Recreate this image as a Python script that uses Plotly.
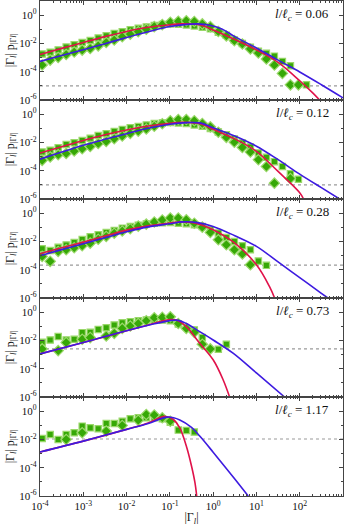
import plotly.graph_objects as go
from plotly.subplots import make_subplots

# panel labels l / l_c
ratios = ["0.06", "0.12", "0.28", "0.73", "1.17"]

# level of the grey dotted line in each panel (log10)
floor_log = [-5.0, -5.0, -3.67, -2.6, -1.97]

# log10 |Gamma_l| of the histogram bins (shared by all panels)
bins_log = [-3.95, -3.765, -3.58, -3.395, -3.21, -3.025, -2.84, -2.655, -2.47, -2.285,
            -2.1, -1.915, -1.73, -1.545, -1.36, -1.175, -0.99, -0.805, -0.62, -0.435,
            -0.25, -0.065, 0.12, 0.305, 0.49, 0.675, 0.86, 1.045, 1.23, 1.415,
            1.6, 1.785, 1.97, 2.155]

N = None
# squares (log10 of |Gamma| p) per panel
sq1 = [-2.75, -2.62, -2.46, -2.26, -2.09, -1.93, -1.79, -1.62, -1.46, -1.29,
       -1.17, -1.03, -0.93, -0.84, -0.74, -0.67, -0.62, -0.64, -0.69, -0.76,
       -0.85, -0.97, -1.21, -1.42, -1.75, -2.01, -2.27, -2.56, -2.7, -2.9,
       -3.27, -3.58, N, -4.93]
sq2 = [-2.68, -2.55, -2.38, -2.15, -2.03, -1.86, -1.70, -1.51, -1.39, -1.22,
       -1.08, -0.96, -0.87, -0.77, -0.67, -0.62, -0.59, -0.62, -0.66, -0.76,
       -0.85, -1.02, -1.26, -1.45, -1.75, -2.04, -2.32, -2.75, -3.05, -3.36,
       -3.7, -4.22, -4.6, N]
sq3 = [-2.52, -2.64, -2.42, -2.25, -2.08, -1.87, -1.67, -1.53, -1.37, -1.22,
       -1.06, -0.94, -0.85, -0.76, -0.72, -0.68, -0.66, -0.71, -0.75, -0.82,
       -0.94, -1.18, -1.41, -1.72, -2.0, -2.31, -2.59, -3.39, -3.69, N,
       N, N, N, N]
sq4 = [-2.13, -1.97, -1.73, -1.97, -1.92, -1.45, -1.43, -1.22, -1.1, -0.91,
       -0.75, -0.68, -0.61, -0.56, -0.56, -0.56, -0.61, -0.84, N, -1.26,
       -1.8, N, -2.62, -2.27, N, N, N, N, N, N,
       N, N, N, N]
sq5 = [-1.93, -1.65, -2.0, -1.65, -1.53, -1.06, -1.18, -1.25, -0.87, -0.87,
       -0.71, -0.54, -0.47, -0.47, -0.47, -0.54, -0.78, -1.34, -1.36, -1.48,
       N, N, N, N, N, N, N, N, N, N,
       N, N, N, N]

# diamonds per panel
di1 = [-3.53, -3.18, -2.99, -2.78, -2.61, -2.47, -2.36, -2.17, -1.93, -1.76,
       -1.53, -1.34, -1.17, -1.0, -0.81, -0.67, -0.5, -0.43, -0.4, -0.45,
       -0.62, -0.81, -1.16, -1.47, -1.8, -2.04, -2.39, -2.68, -3.1, -3.53,
       -4.12, -4.93, -4.93, N]
di2 = [-3.27, -3.03, -2.87, -2.78, -2.61, -2.45, -2.29, -2.08, -1.93, -1.74,
       -1.55, -1.36, -1.2, -1.05, -0.86, -0.68, -0.47, -0.38, -0.38, -0.47,
       -0.66, -0.9, -1.28, -1.64, -1.99, -2.35, -2.68, -3.22, -3.7, -4.88,
       N, -4.55, N, N]
di3 = [-3.06, -3.41, -2.71, -2.59, -2.45, -2.3, -2.12, -1.85, -1.65, -1.42,
       -1.26, -1.1, -0.92, -0.78, -0.63, -0.48, -0.35, -0.35, -0.47, -0.71,
       -0.99, -1.36, -1.88, -2.24, -2.59, -2.89, -3.65, N, N, N,
       N, N, N, N]
di4 = [-2.6, N, -2.72, -2.15, N, -1.92, -1.8, N, -1.69, -1.5,
       -1.15, -0.98, -0.8, -0.61, -0.4, -0.37, -0.33, -0.8, -1.15, -1.43,
       -2.27, -2.6, N, N, N, N, N, N, N, N,
       N, N, N, N]
di5 = [N, N, N, -2.0, N, -1.53, N, N, -1.41, N,
       -1.01, N, -0.64, -0.24, -0.28, -0.47, -0.71, N, N, N,
       N, N, N, N, N, N, N, N, N, N,
       N, N, N, N]

# red curves (log10 x, log10 y)
red1_x = [-4, -3.5, -3, -2.5, -2, -1.5, -1, -0.75, -0.45, -0.2, 0, 0.5, 1, 1.5, 2, 2.3, 2.46]
red1_y = [-2.78, -2.35, -1.93, -1.52, -1.15, -0.86, -0.68, -0.62, -0.63, -0.78, -1.05, -1.72, -2.46,
          -3.34, -4.64, -5.5, -6.0]
red2_x = [-4, -3.5, -3, -2.5, -2, -1.5, -1, -0.7, -0.4, -0.2, 0, 0.5, 1, 1.5, 2, 2.09]
red2_y = [-2.75, -2.3, -1.86, -1.46, -1.12, -0.84, -0.64, -0.58, -0.62, -0.78, -1.07, -1.75, -2.63,
          -4.05, -5.55, -6.0]
red3_x = [-4, -3.5, -3, -2.5, -2, -1.5, -1, -0.75, -0.5, -0.25, 0, 0.5, 1, 1.3, 1.42]
red3_y = [-2.87, -2.45, -2.05, -1.62, -1.2, -0.9, -0.7, -0.62, -0.65, -0.85, -1.18, -2.12, -3.65,
          -5.18, -6.0]
red4_x = [-4, -3, -2, -1.5, -1.2, -1.0, -0.85, -0.62, -0.31, 0, 0.23, 0.38]
red4_y = [-2.95, -2.15, -1.31, -0.91, -0.65, -0.52, -0.56, -1.03, -2.2, -3.37, -4.78, -6.0]
red5_x = [-4, -3, -2, -1.5, -1.3, -1.12, -0.92, -0.77, -0.62, -0.5, -0.42, -0.38]
red5_y = [-2.89, -2.12, -1.29, -0.84, -0.55, -0.36, -0.59, -1.18, -2.47, -3.88, -5.06, -6.0]

# blue curves (log10 x, log10 y)
blue1_x = [-4, -3.5, -3, -2.5, -2, -1.5, -1, -0.6, -0.35, -0.1, 0.2, 0.5, 1, 1.5, 2, 2.5, 3]
blue1_y = [-3.27, -2.86, -2.45, -2.02, -1.58, -1.17, -0.8, -0.65, -0.62, -0.7, -0.98, -1.52, -2.32,
           -3.18, -4.02, -4.92, -5.85]
blue2_x = [-4, -3.5, -3, -2.5, -2, -1.5, -1, -0.6, -0.3, 0, 0.5, 1, 1.5, 2, 2.5, 2.92]
blue2_y = [-3.18, -2.68, -2.2, -1.78, -1.38, -1.0, -0.72, -0.6, -0.62, -0.97, -1.55, -2.27, -3.22,
           -4.24, -5.2, -6.0]
blue3_x = [-4, -3.5, -3, -2.5, -2, -1.5, -1, -0.7, -0.4, 0, 0.5, 1, 1.5, 2, 2.5, 2.65]
blue3_y = [-3.01, -2.58, -2.16, -1.74, -1.32, -0.97, -0.75, -0.62, -0.65, -0.94, -1.6, -2.35, -3.45,
           -4.56, -5.67, -6.0]
blue4_x = [-4, -3, -2, -1.5, -1.0, -0.8, -0.62, -0.31, 0, 0.46, 1.0, 1.65]
blue4_y = [-2.95, -2.15, -1.31, -0.93, -0.6, -0.58, -0.8, -1.38, -1.97, -2.9, -4.3, -6.0]
blue5_x = [-4, -3, -2, -1.5, -1.05, -0.77, -0.5, -0.31, 0, 0.5, 0.81]
blue5_y = [-2.89, -2.12, -1.29, -0.87, -0.42, -0.62, -1.15, -1.76, -2.9, -4.8, -6.0]

x_ticks_log = [-4, -3, -2, -1, 0, 1, 2, 3]
y_ticks_log = [-6, -4, -2, 0]

squares = [sq1, sq2, sq3, sq4, sq5]
diamonds = [di1, di2, di3, di4, di5]
reds = [(red1_x, red1_y), (red2_x, red2_y), (red3_x, red3_y), (red4_x, red4_y), (red5_x, red5_y)]
blues = [(blue1_x, blue1_y), (blue2_x, blue2_y), (blue3_x, blue3_y), (blue4_x, blue4_y), (blue5_x, blue5_y)]

RED = "#e0124a"
BLUE = "#3d1be0"
FILL = "#36a806"
EDGE = "#9ad86a"
AXIS = "#444444"
FONT = "Liberation Serif"


def p10(vals):
    return [None if v is None else 10 ** v for v in vals]


fig = make_subplots(rows=5, cols=1, shared_xaxes=True, vertical_spacing=0)

for k in range(5):
    row = k + 1
    fig.add_trace(go.Scatter(x=[1e-4, 1e3], y=[10 ** floor_log[k]] * 2, mode="lines",
                             line=dict(color="#9a9a9a", width=1.2, dash="dot")), row=row, col=1)
    fig.add_trace(go.Scatter(x=p10(bins_log), y=p10(squares[k]), mode="markers",
                             marker=dict(symbol="square", size=6.3, color=FILL,
                                         line=dict(color=EDGE, width=1.2))), row=row, col=1)
    fig.add_trace(go.Scatter(x=p10(bins_log), y=p10(diamonds[k]), mode="markers",
                             marker=dict(symbol="diamond", size=8, color=FILL,
                                         line=dict(color=EDGE, width=1.2))), row=row, col=1)
    fig.add_trace(go.Scatter(x=p10(reds[k][0]), y=p10(reds[k][1]), mode="lines",
                             line=dict(color=RED, width=1.6, shape="spline")), row=row, col=1)
    fig.add_trace(go.Scatter(x=p10(blues[k][0]), y=p10(blues[k][1]), mode="lines",
                             line=dict(color=BLUE, width=1.6, shape="spline")), row=row, col=1)
    fig.add_annotation(xref="x domain" if k == 0 else f"x{row} domain",
                       yref="y domain" if k == 0 else f"y{row} domain",
                       x=0.96, y=0.86, xanchor="right", yanchor="middle", showarrow=False,
                       text=f"<i>l</i>/<i>ℓ</i><sub><i>c</i></sub> = {ratios[k]}",
                       font=dict(family=FONT, size=13, color="#111"))

x_minor = [m * 10 ** d for d in range(-4, 3) for m in range(2, 10)]
fig.update_xaxes(type="log", range=[-4, 3], showline=True, linecolor=AXIS, linewidth=1.3,
                 mirror="ticks", ticks="inside", ticklen=4, tickcolor=AXIS, tickwidth=1,
                 tickvals=[10 ** d for d in x_ticks_log],
                 ticktext=[f"10<sup>{d}</sup>" for d in x_ticks_log],
                 minor=dict(tickvals=x_minor, ticks="inside", ticklen=2, tickcolor=AXIS, tickwidth=1,
                            showgrid=False),
                 showgrid=False, zeroline=False, automargin=False,
                 tickfont=dict(family=FONT, size=11, color="#111"))
fig.update_xaxes(title=dict(text="|Γ<sub><i>l</i></sub>|", font=dict(family=FONT, size=12, color="#111"),
                            standoff=1), row=5, col=1)
fig.update_yaxes(type="log", range=[-6, 1], showline=True, linecolor=AXIS, linewidth=1.3,
                 mirror="ticks", ticks="inside", ticklen=4, tickcolor=AXIS, tickwidth=1,
                 tickvals=[10 ** d for d in y_ticks_log],
                 ticktext=[f"10<sup>{d}</sup>" for d in y_ticks_log],
                 minor=dict(tickvals=[1e-5, 1e-3, 1e-1], ticks="inside", ticklen=2, tickcolor=AXIS,
                            tickwidth=1, showgrid=False),
                 showgrid=False, zeroline=False, automargin=False,
                 tickfont=dict(family=FONT, size=11, color="#111"),
                 title=dict(text="|Γ<sub><i>l</i></sub>| p<sub>|Γ<i>l</i>|</sub>",
                            font=dict(family=FONT, size=12, color="#111"), standoff=2))

fig.update_layout(width=349, height=527, margin=dict(l=40, r=6, t=1, b=31),
                  showlegend=False, plot_bgcolor="white", paper_bgcolor="white")

fig.write_html("out.html", config={"displayModeBar": False},
               post_script="document.body.style.margin='0';")
